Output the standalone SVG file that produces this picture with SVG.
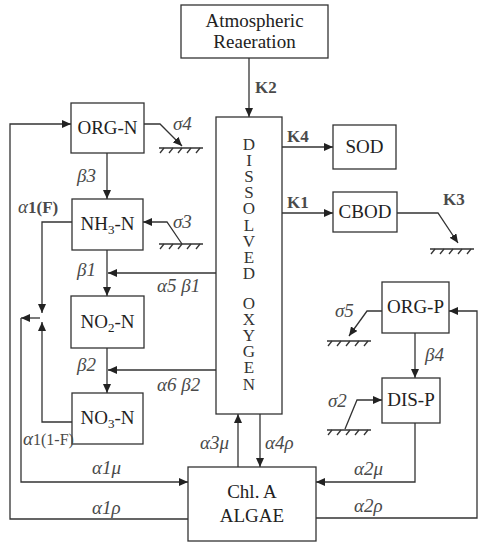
<svg xmlns="http://www.w3.org/2000/svg" xmlns:xlink="http://www.w3.org/1999/xlink" width="478" height="542" viewBox="0 0 478 542">
<style>
.box{fill:#fff;stroke:#333;stroke-width:1.3}
.ln{fill:none;stroke:#333;stroke-width:1.3}
.arr{marker-end:url(#ah)}
.bt{font-family:"Liberation Serif",serif;font-size:19px;fill:#222;text-anchor:middle}
.do{font-family:"Liberation Serif",serif;font-size:17px;fill:#333;writing-mode:vertical-rl;text-orientation:upright;letter-spacing:-2.9px}
.lb{font-family:"Liberation Serif",serif;font-size:19px;font-style:italic;fill:#4a4a4a}
.k{font-family:"Liberation Serif",serif;font-size:17px;font-weight:bold;fill:#4a4a4a}
.bd{font-style:normal;font-weight:bold}
</style>
<defs>
<marker id="ah" markerUnits="userSpaceOnUse" markerWidth="9" markerHeight="8" refX="9" refY="4" orient="auto">
<path d="M0,0 L9,4 L0,8 z" fill="#222"/>
</marker>
<g id="ground" class="ln" stroke-width="1">
<line x1="0" y1="0" x2="44" y2="0"/>
<line x1="5" y1="0" x2="1" y2="5"/>
<line x1="14" y1="0" x2="10" y2="5"/>
<line x1="23" y1="0" x2="19" y2="5"/>
<line x1="32" y1="0" x2="28" y2="5"/>
<line x1="41" y1="0" x2="37" y2="5"/>
</g>
</defs>

<g id="connectors">
<line class="ln arr" x1="249" y1="58" x2="249" y2="117"/>
<line class="ln arr" x1="282" y1="147" x2="333" y2="147"/>
<line class="ln arr" x1="282" y1="213" x2="333" y2="213"/>
<polyline class="ln arr" points="397,213 438,213 458,243"/>
<use xlink:href="#ground" x="430" y="249"/>
<polyline class="ln arr" points="144,124 160,124 182,146"/>
<use xlink:href="#ground" x="159" y="148"/>
<polyline class="ln arr" points="182,244 167,222 143,222"/>
<use xlink:href="#ground" x="159" y="244"/>
<line class="ln arr" x1="107" y1="153" x2="107" y2="199"/>
<line class="ln arr" x1="107" y1="250" x2="107" y2="296"/>
<line class="ln arr" x1="107" y1="348" x2="107" y2="393"/>
<line class="ln arr" x1="216" y1="273" x2="108" y2="273"/>
<line class="ln arr" x1="216" y1="370" x2="108" y2="370"/>
<polyline class="ln arr" points="72,222 42,222 42,313"/>
<polyline class="ln arr" points="72,422 42,422 42,322"/>
<line class="ln arr" x1="40" y1="318" x2="21" y2="318"/>
<polyline class="ln arr" points="21,318 21,482 188,482"/>
<polyline class="ln arr" points="188,519 10,519 10,124 71,124"/>
<line class="ln arr" x1="238" y1="467" x2="238" y2="414"/>
<line class="ln arr" x1="260" y1="414" x2="260" y2="467"/>
<polyline class="ln arr" points="415,423 415,482 316,482"/>
<polyline class="ln arr" points="316,518 477,518 477,311 449,311"/>
<line class="ln arr" x1="415" y1="333" x2="415" y2="378"/>
<polyline class="ln arr" points="382,311 367,311 349,336"/>
<use xlink:href="#ground" x="327" y="341"/>
<polyline class="ln arr" points="345,429 357,400 382,400"/>
<use xlink:href="#ground" x="327" y="430"/>
</g>

<g id="atm"><rect class="box" x="181" y="5" width="147" height="53"/>
<text class="bt" x="254.5" y="27" font-size="20">Atmospheric</text><text class="bt" x="254.5" y="48" font-size="20">Reaeration</text></g>
<g id="do"><rect class="box" x="216" y="117" width="66" height="297"/>
<text class="do" x="249" y="135">DISSOLVED</text>
<text class="do" x="249" y="294">OXYGEN</text></g>
<g id="sod"><rect class="box" x="333" y="125" width="63" height="44"/><text class="bt" x="364.5" y="153">SOD</text></g>
<g id="cbod"><rect class="box" x="333" y="192" width="64" height="40"/><text class="bt" x="365" y="218">CBOD</text></g>
<g id="orgn"><rect class="box" x="71" y="103" width="73" height="50"/><text class="bt" x="107.5" y="134">ORG-N</text></g>
<g id="nh3n"><rect class="box" x="72" y="199" width="71" height="51"/><text class="bt" x="107.5" y="230">NH<tspan font-size="13" dy="4">3</tspan><tspan dy="-4">-N</tspan></text></g>
<g id="no2n"><rect class="box" x="71" y="296" width="73" height="52"/><text class="bt" x="107.5" y="328">NO<tspan font-size="13" dy="4">2</tspan><tspan dy="-4">-N</tspan></text></g>
<g id="no3n"><rect class="box" x="72" y="393" width="71" height="51"/><text class="bt" x="107.5" y="424">NO<tspan font-size="13" dy="4">3</tspan><tspan dy="-4">-N</tspan></text></g>
<g id="orgp"><rect class="box" x="382" y="282" width="67" height="51"/><text class="bt" x="415.5" y="313">ORG-P</text></g>
<g id="disp"><rect class="box" x="382" y="378" width="58" height="45"/><text class="bt" x="411" y="406">DIS-P</text></g>
<g id="chla"><rect class="box" x="188" y="467" width="128" height="74"/><text class="bt" x="252" y="498" font-size="20">Chl. A</text><text class="bt" x="252" y="522" font-size="20">ALGAE</text></g>

<g id="labels">
<text class="k" x="255" y="93">K2</text>
<text class="k" x="287" y="142">K4</text>
<text class="k" x="287" y="208">K1</text>
<text class="k" x="443" y="205">K3</text>
<text class="lb" x="173" y="130">σ4</text>
<text class="lb" x="77" y="182">β3</text>
<text class="lb" x="18" y="213">α<tspan class="bd" font-size="17">1(F)</tspan></text>
<text class="lb" x="173" y="228">σ3</text>
<text class="lb" x="77" y="276">β1</text>
<text class="lb" x="157" y="292">α5 β1</text>
<text class="lb" x="77" y="371">β2</text>
<text class="lb" x="157" y="391">α6 β2</text>
<text class="lb" x="23" y="445">α<tspan font-style="normal" font-size="16">1(1-F)</tspan></text>
<text class="lb" x="200" y="449">α3μ</text>
<text class="lb" x="265" y="449">α4ρ</text>
<text class="lb" x="92" y="474">α1μ</text>
<text class="lb" x="92" y="514">α1ρ</text>
<text class="lb" x="425" y="361">β4</text>
<text class="lb" x="335" y="317">σ5</text>
<text class="lb" x="328" y="407">σ2</text>
<text class="lb" x="354" y="475">α2μ</text>
<text class="lb" x="354" y="512">α2ρ</text>
</g>
</svg>
